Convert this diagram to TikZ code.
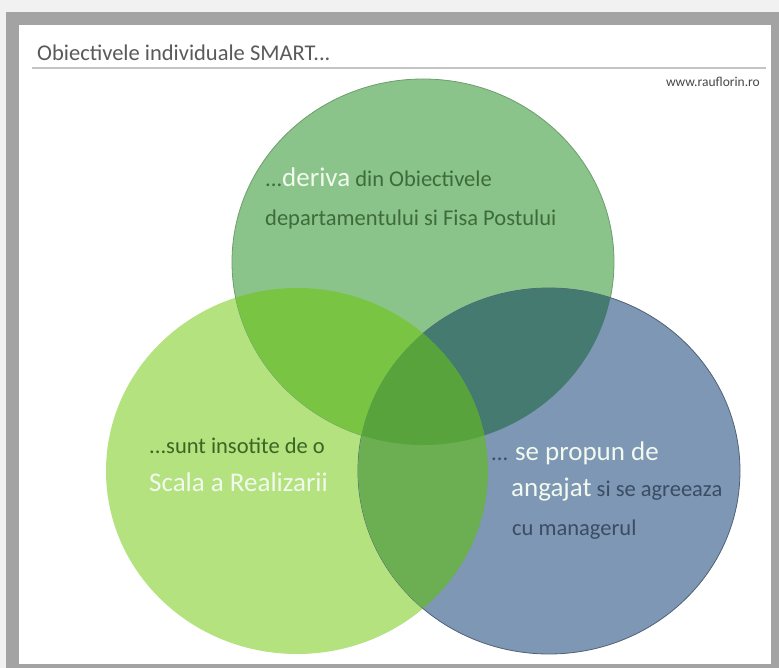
\documentclass[tikz,border=0pt]{standalone}
\usepackage{fontspec}
\setmainfont{Carlito}
\definecolor{shadowgray}{HTML}{F1F1F1}
\definecolor{framegray}{HTML}{A3A3A3}
\definecolor{rulegray}{HTML}{C4C4C4}
\definecolor{titleink}{HTML}{5A5A5A}
\definecolor{topfill}{HTML}{8AC48A}
\definecolor{leftfill}{HTML}{B3E27E}
\definecolor{rightfill}{HTML}{7D97B4}
\definecolor{topleftfill}{HTML}{79C443}
\definecolor{toprightfill}{HTML}{457A70}
\definecolor{leftrightfill}{HTML}{6BAF52}
\definecolor{centerfill}{HTML}{58A33B}
\definecolor{topink}{HTML}{3E6B3B}
\definecolor{leftink}{HTML}{3A6624}
\definecolor{rightink}{HTML}{3B4C63}
\definecolor{lightink}{HTML}{F2F9EE}
\newcommand{\circtop}{(423,262) ellipse [x radius=191pt, y radius=183pt]}
\newcommand{\circleft}{(297,471) ellipse [x radius=191pt, y radius=183pt]}
\newcommand{\circright}{(549,471) ellipse [x radius=191pt, y radius=183pt]}
\newcommand{\bigword}[1]{{\color{lightink}\fontsize{27}{30}\selectfont #1}}
\begin{document}
\begin{tikzpicture}[x=1pt,y=-1pt]
	\tikzset{txt/.style = {inner sep=0pt, anchor=base west, font=\fontsize{22.5}{26}\selectfont}}
	\tikzset{edge/.style = {line width=0.8pt}}
	\useasboundingbox (0,0) rectangle (779,668);
	% frame
	\fill[shadowgray] (0,0) rectangle (779,668);
	\fill[framegray] (6,12) rectangle (779,668);
	\fill[white] (19,25) rectangle (771,664);
	\node[txt, text=titleink] (title) at (37,61) {Obiectivele individuale SMART...};
	\draw[rulegray, line width=1.5pt] (32,68) -- (766,68);
	\node[txt, anchor=base east, text=black!72, font=\fontsize{13.5}{16}\selectfont] (site) at (760,87) {www.rauflorin.ro};
	% circles
	\fill[leftfill] \circleft;
	\filldraw[edge, fill=topfill, draw=topfill!80!black] \circtop;
	\filldraw[edge, fill=rightfill, draw=rightfill!65!black] \circright;
	\begin{scope} \clip \circtop; \fill[topleftfill] \circleft; \end{scope}
	\begin{scope} \clip \circtop; \fill[toprightfill] \circright; \end{scope}
	\begin{scope} \clip \circleft; \fill[leftrightfill] \circright; \end{scope}
	\begin{scope} \clip \circtop; \clip \circleft; \fill[centerfill] \circright; \end{scope}
	% texts
	\node[txt, text=topink] (deriva) at (265,187) {...\bigword{deriva} din Obiectivele};
	\node[txt, text=topink] (fisa) at (265,226) {departamentului si Fisa Postului};
	\node[txt, text=leftink] (insotite) at (149,453) {...sunt insotite de o};
	\node[txt, text=lightink, font=\fontsize{27}{30}\selectfont] (scala) at (149,491) {Scala a Realizarii};
	\node[txt, text=rightink] (propun) at (491,460) {... \bigword{se propun de}};
	\node[txt, text=rightink] (angajat) at (511,496) {\bigword{angajat} si se agreeaza};
	\node[txt, text=rightink] (manager) at (512,535) {cu managerul};
\end{tikzpicture}
\end{document}
